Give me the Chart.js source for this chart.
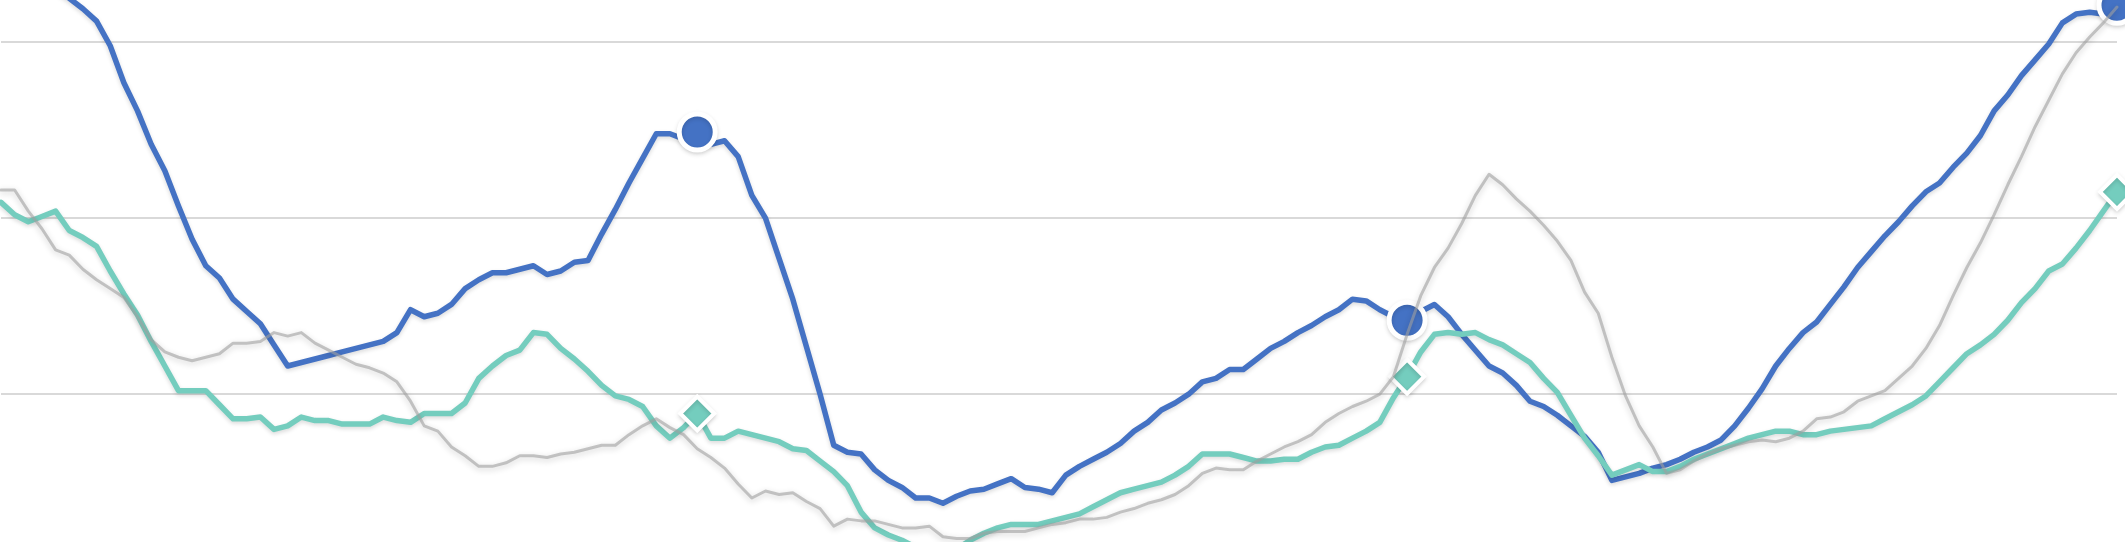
<!DOCTYPE html>
<html>
<head>
<meta charset="utf-8">
<script src="https://cdn.jsdelivr.net/npm/chart.js@4.4.1/dist/chart.umd.min.js"></script>
<style>
    html, body { margin: 0; padding: 0; background: #ffffff; }
    #wrap { width: 2125px; height: 542px; position: relative; }
</style>
</head>
<body>
<div id="wrap">
    <canvas id="trendChart"></canvas>
</div>
<script>

// three seasons of weekly points, 52 per season
const seasons = ["S1", "S2", "S3"];

const weekLabels = [];
seasons.forEach(s => {
    for (let w = 1; w <= 52; w++) {
        weekLabels.push(s + " W" + w);
    }
});

// weeks that carry a marker (season ends)
const markerIndex = [51, 103, 155];

// gridline values
const yTicks = [100, 200, 300];

const blueSeries = [
    352, 347, 341, 335, 330, 325, 319, 312, 298, 277,
    261, 242, 227, 207, 188, 173, 166, 154, 147, 140,
    128, 116, 118, 120, 122, 124, 126, 128, 130, 135,
    148, 144, 146, 151, 160, 165, 169, 169, 171, 173,
    168, 170, 175, 176, 191, 205, 220, 234, 248, 248,
    245, 249, 242, 244, 235, 213, 200, 177, 154, 127,
    100, 71, 67, 66, 57, 51, 47, 41, 41, 38,
    42, 45, 46, 49, 52, 47, 46, 44, 54, 59,
    63, 67, 72, 79, 84, 91, 95, 100, 107, 109,
    114, 114, 120, 126, 130, 135, 139, 144, 148, 154,
    153, 148, 144, 142, 147, 151, 144, 134, 125, 116,
    112, 105, 96, 93, 88, 82, 76, 67, 51, 53,
    55, 58, 60, 63, 67, 70, 74, 82, 92, 103,
    116, 126, 135, 141, 151, 161, 172, 181, 190, 198,
    207, 215, 220, 229, 237, 247, 261, 270, 281, 290,
    299, 311, 316, 317, 316, 321
];

const tealSeries = [
    209, 202, 198, 201, 204, 193, 189, 184, 170, 157,
    145, 130, 116, 102, 102, 102, 94, 86, 86, 87,
    80, 82, 87, 85, 85, 83, 83, 83, 87, 85,
    84, 89, 89, 89, 95, 109, 116, 122, 125, 135,
    134, 126, 120, 113, 105, 99, 97, 93, 82, 75,
    81, 89, 75, 75, 79, 77, 75, 73, 69, 68,
    62, 56, 48, 33, 24, 20, 17, 13, 10, 10,
    12, 17, 21, 24, 26, 26, 26, 28, 30, 32,
    36, 40, 44, 46, 48, 50, 54, 59, 66, 66,
    66, 64, 62, 62, 63, 63, 67, 70, 71, 75,
    79, 84, 98, 110, 124, 134, 135, 134, 135, 131,
    128, 123, 118, 109, 101, 88, 75, 65, 54, 57,
    60, 56, 56, 59, 63, 66, 69, 72, 75, 77,
    79, 79, 77, 77, 79, 80, 81, 82, 86, 90,
    94, 99, 107, 115, 123, 128, 134, 142, 152, 160,
    170, 174, 183, 193, 204, 215
];

const graySeries = [
    216, 216, 204, 194, 182, 179, 171, 165, 160, 155,
    144, 131, 124, 121, 119, 121, 123, 129, 129, 130,
    135, 133, 135, 129, 125, 121, 117, 115, 112, 107,
    96, 82, 79, 70, 65, 59, 59, 61, 65, 65,
    64, 66, 67, 69, 71, 71, 77, 82, 86, 81,
    77, 69, 64, 58, 49, 41, 45, 43, 44, 39,
    35, 25, 29, 28, 28, 26, 24, 24, 25, 19,
    18, 18, 21, 22, 22, 22, 24, 26, 27, 29,
    29, 30, 33, 35, 38, 40, 43, 48, 55, 58,
    57, 57, 62, 66, 70, 73, 77, 84, 89, 93,
    96, 100, 110, 134, 156, 172, 183, 197, 213, 225,
    219, 211, 204, 196, 187, 176, 158, 146, 121, 99,
    82, 70, 55, 57, 62, 66, 69, 71, 73, 74,
    73, 75, 79, 86, 87, 90, 96, 99, 102, 109,
    116, 126, 139, 156, 172, 186, 202, 219, 235, 252,
    267, 282, 294, 303, 311, 320
];


function markerSize(size) {
    return ctx => markerIndex.includes(ctx.dataIndex) ? size : 0;
}

// soft drop shadow under each line, like the office chart effect
const lineShadow = {
    id: "lineShadow",
    beforeDatasetDraw(chart, args) {
        const ds = chart.data.datasets[args.index];
        const c = chart.ctx;
        c.save();
        if (ds.shadow) {
            c.shadowColor = ds.shadow.color;
            c.shadowBlur = ds.shadow.blur;
            c.shadowOffsetX = ds.shadow.x;
            c.shadowOffsetY = ds.shadow.y;
        }
    },
    afterDatasetDraw(chart) {
        chart.ctx.restore();
    }
};


new Chart(

    document.getElementById("trendChart"),

    {
        type: "line",

        data: {

            labels: weekLabels,

            datasets: [

                {
                    label: "Gray",
                    data: graySeries,
                    borderColor: "rgba(160,160,160,0.6)",
                    borderWidth: 3,
                    pointRadius: 0,
                    shadow: { color: "rgba(0,0,0,0.3)", blur: 6, x: 0, y: 2 },
                    order: 0
                },

                {
                    label: "Teal",
                    data: tealSeries,
                    borderColor: "#74CDBE",
                    borderWidth: 5.5,
                    pointStyle: "rectRot",
                    pointRadius: markerSize(17),
                    pointBackgroundColor: "#74CDBE",
                    pointBorderColor: "#ffffff",
                    pointBorderWidth: 4,
                    shadow: { color: "rgba(0,0,0,0.15)", blur: 4, x: 0, y: 2 },
                    order: 1
                },

                {
                    label: "Blue",
                    data: blueSeries,
                    borderColor: "#4472C4",
                    borderWidth: 5.5,
                    pointStyle: "circle",
                    pointRadius: markerSize(18),
                    pointBackgroundColor: "#4472C4",
                    pointBorderColor: "#ffffff",
                    pointBorderWidth: 5,
                    shadow: { color: "rgba(0,0,0,0.15)", blur: 4, x: 0, y: 2 },
                    order: 2
                }
            ]
        },

        options: {
            responsive: true,
            maintainAspectRatio: false,
            animation: false,
            clip: false,
            layout: {
                autoPadding: false,
                padding: { left: 1, right: 8, top: 0, bottom: 0 }
            },
            elements: {
                line: { tension: 0, borderJoinStyle: "round", borderCapStyle: "round" }
            },
            plugins: {
                legend: { display: false },
                tooltip: { enabled: false }
            },
            scales: {
                x: {
                    display: false
                },
                y: {
                    min: 16,
                    max: 324,
                    afterBuildTicks: scale => {
                        scale.ticks = yTicks.map(v => ({ value: v }));
                    },
                    afterFit: scale => {
                        scale.width = 0;
                    },
                    ticks: { display: false },
                    border: { display: false },
                    grid: {
                        color: "#D9D9D9",
                        lineWidth: 2,
                        drawTicks: false
                    }
                }
            }
        },

        plugins: [lineShadow]
    }
);

</script>
</body>
</html>
